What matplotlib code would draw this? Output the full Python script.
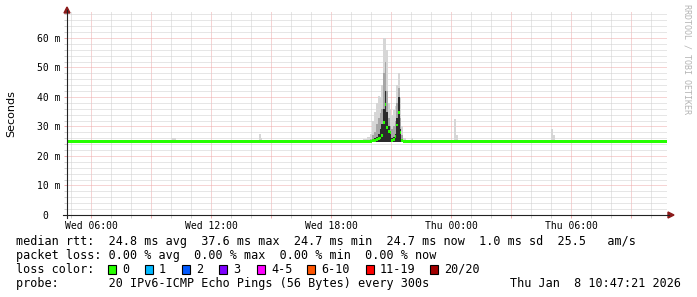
import matplotlib.pyplot as plt
from matplotlib.patches import Rectangle, Polygon
from matplotlib.lines import Line2D

# smokeping latency graph, last 30 hours
# time is in hours since Wed 00:00, values in ms
start_hour = 4.789
end_hour = 34.789

hours = [4.789, 10.05, 10.25, 14.40, 14.50, 14.55, 19.60, 19.80, 19.95, 20.05,
         20.15, 20.25, 20.333, 20.417, 20.50, 20.583, 20.667, 20.75, 20.833, 20.917,
         21.00, 21.083, 21.167, 21.25, 21.333, 21.417, 21.50, 21.583, 21.75, 22.00,
         22.10, 24.15, 24.25, 24.35, 29.00, 29.10, 29.20]
median = [24.8, 24.8, 24.8, 24.8, 24.8, 24.8, 24.8, 24.9, 25.0, 25.1,
          25.2, 25.5, 25.8, 26.1, 26.8, 31.5, 37.6, 29.5, 28.2, 27.8,
          25.3, 25.6, 26.5, 30.5, 34.7, 27.8, 25.2, 24.8, 24.8, 24.8,
          24.8, 24.8, 24.8, 24.8, 24.8, 24.8, 24.8]
smoke_dark = [24.8, 24.8, 24.8, 24.8, 24.8, 24.8, 24.8, 25.0, 25.2, 25.5,
              26.0, 26.5, 27.5, 29.0, 31.0, 36.0, 42.0, 35.0, 30.0, 28.0,
              26.0, 26.5, 27.5, 33.0, 40.0, 29.0, 25.5, 24.8, 24.8, 24.8,
              24.8, 24.8, 24.8, 24.8, 24.8, 24.8, 24.8]
smoke_mid = [24.8, 24.8, 24.8, 25.5, 24.8, 24.8, 24.8, 25.5, 25.8, 27.0,
             28.0, 31.0, 33.0, 34.5, 36.0, 48.0, 52.0, 42.0, 33.0, 30.0,
             29.0, 30.0, 32.0, 38.0, 43.0, 33.0, 27.0, 25.2, 24.8, 24.8,
             24.8, 24.8, 24.8, 24.8, 24.8, 24.8, 24.8]
smoke_max = [24.8, 26.0, 24.8, 27.5, 26.0, 24.8, 25.6, 26.5, 27.5, 32.0,
             35.0, 38.0, 40.5, 40.0, 44.0, 60.0, 60.0, 56.0, 38.0, 36.0,
             34.0, 35.5, 37.0, 44.0, 48.0, 40.0, 30.0, 26.0, 24.8, 26.0,
             24.8, 32.4, 27.0, 24.8, 29.0, 27.0, 24.8]
smoke_min = 24.7

loss_labels = ['0', '1', '2', '3', '4-5', '6-10', '11-19', '20/20']
loss_colors = ['#26ff00', '#00b8ff', '#0059ff', '#7e00ff', '#ff00ff', '#ff5500', '#ff0000', '#a10000']
loss_box_x = [108, 145, 182, 219, 257, 307, 366, 430]

legend_lines = [
    'median rtt:  24.8 ms avg  37.6 ms max  24.7 ms min  24.7 ms now  1.0 ms sd  25.5   am/s',
    'packet loss: 0.00 % avg  0.00 % max  0.00 % min  0.00 % now',
    'loss color:',
    'probe:       20 IPv6-ICMP Echo Pings (56 Bytes) every 300s',
]
stamp = 'Thu Jan  8 10:47:21 2026'

x_major = [6, 9, 12, 15, 18, 21, 24, 27, 30, 33]
x_labels = ['Wed 06:00', '', 'Wed 12:00', '', 'Wed 18:00', '', 'Thu 00:00', '', 'Thu 06:00', '']
y_major = [0, 10, 20, 30, 40, 50, 60]
y_labels = ['0  ', '10 m', '20 m', '30 m', '40 m', '50 m', '60 m']

W, H = 697, 297
mono = 'DejaVu Sans Mono'


def fx(px):
    return px / W


def fy(py):
    return 1 - py / H


fig = plt.figure(figsize=(W / 100, H / 100), dpi=100)
fig.patch.set_facecolor('white')
ax = fig.add_axes([fx(67), fy(215), 600 / W, 203 / H])
ax.set_xlim(start_hour, end_hour)
ax.set_ylim(0, 68.8)

# step data, extend last value to the end of the graph
t = hours + [end_hour]
def ext(v):
    return v + [v[-1]]

ax.fill_between(t, smoke_min, ext(smoke_max), step='post', color='#d6d6d6', lw=0, zorder=2)
ax.fill_between(t, smoke_min, ext(smoke_mid), step='post', color='#a6a6a6', lw=0, zorder=3)
ax.fill_between(t, smoke_min, ext(smoke_dark), step='post', color='#2b2b2b', lw=0, zorder=4)
med = ext(median)
ax.fill_between(t, [m - 0.5 for m in med], [m + 0.5 for m in med], step='post',
                color='#26ff00', lw=0, zorder=5)

# grid
ax.set_xticks(x_major)
ax.set_xticklabels(x_labels)
ax.set_xticks(range(5, 35), minor=True)
ax.set_yticks(y_major)
ax.set_yticklabels(y_labels)
ax.set_yticks(range(0, 69, 2), minor=True)
ax.grid(which='minor', color='#cfcfcf', lw=0.72, ls=(0, (1, 1)), zorder=0)
ax.grid(which='major', color='#eeaaaa', lw=0.72, ls=(0, (1, 1)), zorder=1)
ax.tick_params(which='both', length=2.5, width=0.72, direction='out')
ax.tick_params(which='major', colors='#eeaaaa', labelcolor='black', labelsize=7, pad=2)
ax.tick_params(which='minor', colors='#cfcfcf')
for lab in ax.get_xticklabels() + ax.get_yticklabels():
    lab.set_fontfamily(mono)
for s in ax.spines.values():
    s.set_visible(False)
ax.set_facecolor('white')

# axes lines with arrows
fig.add_artist(Line2D([fx(67), fx(67)], [fy(218), fy(10)], color='#222222', lw=0.8))
fig.add_artist(Line2D([fx(63), fx(669)], [fy(215), fy(215)], color='#222222', lw=0.8))
fig.add_artist(Polygon([[fx(64), fy(13)], [fx(70), fy(13)], [fx(67), fy(7)]],
                       closed=True, color='#8b1a1a', transform=fig.transFigure))
fig.add_artist(Polygon([[fx(668), fy(212)], [fx(668), fy(218)], [fx(674), fy(215)]],
                       closed=True, color='#8b1a1a', transform=fig.transFigure))

fig.text(fx(11), fy(114), 'Seconds', rotation=90, ha='center', va='center',
         fontsize=8, family='DejaVu Sans')
fig.text(fx(687), fy(4), 'RRDTOOL / TOBI OETIKER', rotation=270, ha='center', va='top',
         fontsize=6, family=mono, color='#b4b4b4')

# legend
rows_y = [245, 259, 273, 287]
for line, y in zip(legend_lines, rows_y):
    fig.text(fx(16), fy(y), line, family=mono, fontsize=8.5, va='baseline', ha='left')
fig.text(fx(681), fy(rows_y[3]), stamp, family=mono, fontsize=8.5, va='baseline', ha='right')
for lab, col, bx in zip(loss_labels, loss_colors, loss_box_x):
    fig.add_artist(Rectangle((fx(bx), fy(274)), 8 / W, 9 / H, facecolor=col,
                             edgecolor='black', lw=0.8, transform=fig.transFigure))
    fig.text(fx(bx + 14), fy(rows_y[2]), lab, family=mono, fontsize=8.5, va='baseline', ha='left')

fig.savefig('out.png', dpi=100)
